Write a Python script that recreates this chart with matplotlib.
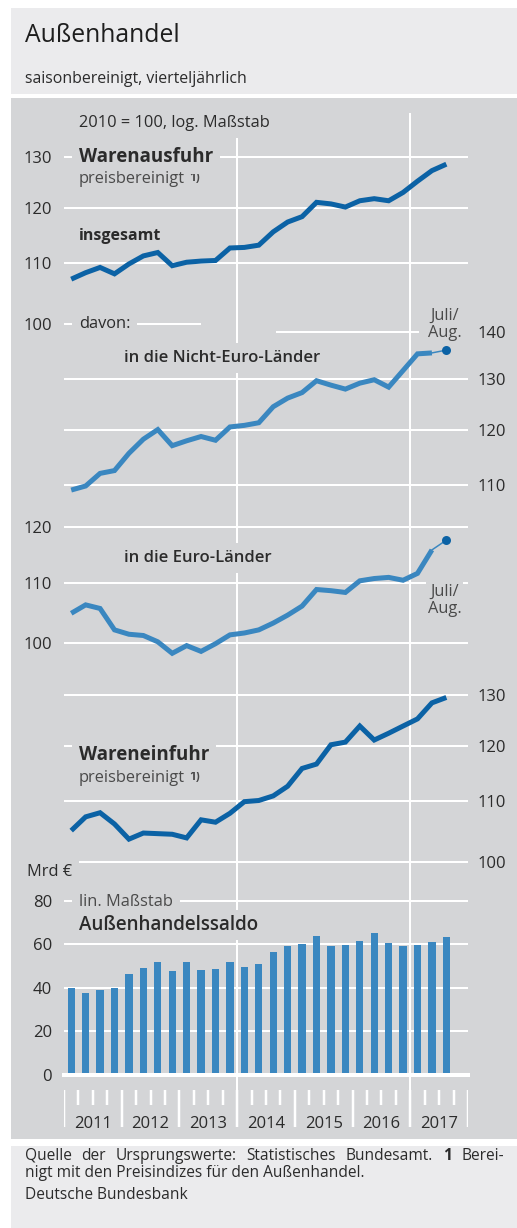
import numpy as np
import matplotlib.pyplot as plt
from matplotlib.patches import Rectangle
from matplotlib.ticker import NullLocator

plt.rcParams['font.family'] = ['Open Sans', 'DejaVu Sans']

# quarterly values 2011 Q1 .. 2017 Q3
quarters = np.arange(27)
years = ['2011', '2012', '2013', '2014', '2015', '2016', '2017']

exports_total = [107.3, 108.4, 109.3, 108.2, 109.9, 111.3, 111.9, 109.6, 110.2, 110.4,
                 110.5, 112.7, 112.8, 113.2, 115.6, 117.4, 118.4, 121.1, 120.8, 120.2,
                 121.4, 121.8, 121.4, 123.0, 125.2, 127.3, 128.6]
exports_non_euro = [109.1, 109.8, 112.0, 112.5, 115.6, 118.2, 120.0, 117.0, 117.9, 118.7,
                    118.0, 120.5, 120.8, 121.3, 124.4, 126.1, 127.2, 129.6, 128.7, 127.9,
                    129.1, 129.8, 128.3, 131.7, 135.2, 135.4, 136.0]
exports_euro = [104.8, 106.2, 105.6, 102.1, 101.4, 101.2, 100.2, 98.4, 99.6, 98.7,
                99.9, 101.3, 101.6, 102.1, 103.2, 104.5, 106.0, 108.8, 108.6, 108.3,
                110.3, 110.7, 110.9, 110.4, 111.6, 115.8, 117.6]
imports_total = [105.0, 107.3, 108.0, 106.1, 103.6, 104.6, 104.5, 104.4, 103.8, 106.8,
                 106.4, 107.9, 109.9, 110.1, 110.9, 112.6, 115.8, 116.6, 120.2, 120.7,
                 123.8, 121.1, 122.4, 123.8, 125.2, 128.4, 129.5]
trade_balance = [39.8, 37.5, 39.2, 39.8, 46.4, 49.1, 51.9, 47.7, 51.7, 48.0,
                 48.8, 52.0, 49.4, 50.9, 56.3, 59.3, 60.0, 63.7, 59.3, 59.8,
                 61.3, 65.2, 60.4, 59.3, 59.5, 60.9, 63.3]

W, H = 517, 1228
HEAD = '#ebebed'
PANEL = '#d4d5d7'
DARK = '#0b62a5'
LIGHT = '#3a87c0'
TXT = '#2b2b2b'
GREY_TXT = '#4a4a4a'
PX = 72 / 100  # points per pixel
K = 635.0      # pixels per log unit on the index panels
FS = 11.8      # regular text size

fig = plt.figure(figsize=(W / 100, H / 100), dpi=100)
fig.patch.set_facecolor('white')


def rect(x0, y0, x1, y1):
    return [x0 / W, 1 - y1 / H, (x1 - x0) / W, (y1 - y0) / H]


def panel(x0, y0, x1, y1, color):
    fig.patches.append(Rectangle((x0 / W, 1 - y1 / H), (x1 - x0) / W, (y1 - y0) / H,
                                 transform=fig.transFigure, fc=color, ec='none', zorder=-10))


def ftext(x, y, s, size, box=True, pad_px=7, **kw):
    kw.setdefault('color', TXT)
    kw.setdefault('va', 'baseline')
    if box:
        kw['bbox'] = dict(boxstyle='square,pad=%.3f' % (pad_px / (size / PX)), fc=PANEL, ec='none')
    return fig.text(x / W, 1 - y / H, s, fontsize=size, **kw)


panel(11, 8, W, 94, HEAD)
panel(11, 98, W, 1139, PANEL)
panel(11, 1146, W, H, HEAD)

X0, X1 = 64, 468

# background axes: vertical grid lines, quarter ticks, year labels
axbg = fig.add_axes(rect(X0, 98, X1, 1140))
axbg.set_axis_off()
axbg.set_xlim(-0.5, 27.5)
axbg.set_ylim(1140, 98)
axbg.vlines([11.5, 23.5], 113, 1127, color='white', lw=2 * PX)
bounds = np.arange(29) - 0.5
for i, b in enumerate(bounds):
    axbg.vlines(b, 1090, 1127 if i % 4 == 0 else 1105, color='white', lw=2.5 * PX)
for k, yr in enumerate(years):
    axbg.text(4 * k + 1.5, 1128, yr, ha='center', va='baseline', fontsize=12, color=TXT)


def make_ax(top, bottom, side, ticks, vref, yref, log=True):
    ax = fig.add_axes(rect(X0, top, X1, bottom))
    ax.patch.set_visible(False)
    for s in ax.spines.values():
        s.set_visible(False)
    ax.set_xlim(-0.5, 27.5)
    ax.set_xticks([])
    if log:
        ax.set_yscale('log')
        ax.set_ylim(vref * np.exp((yref - bottom) / K), vref * np.exp((yref - top) / K))
    else:
        ax.set_ylim(0, vref * (bottom - top) / (bottom - yref))
    ax.set_yticks(ticks)
    ax.set_yticklabels([str(t) for t in ticks])
    ax.yaxis.set_minor_locator(NullLocator())
    if side == 'right':
        ax.yaxis.tick_right()
        ax.tick_params(axis='y', length=0, pad=10 * PX, labelsize=12, labelcolor=TXT)
    else:
        ax.tick_params(axis='y', length=0, pad=12 * PX, labelsize=12, labelcolor=TXT)
    return ax


GLW = 2 * PX
LLW = 5 * PX

# Warenausfuhr insgesamt
ax1 = make_ax(140, 330, 'left', [100, 110, 120, 130], 130, 157.3)
for t in [110, 120, 130]:
    ax1.axhline(t, color='white', lw=GLW, zorder=1)
ax1.axhline(100, xmin=0, xmax=(200 - X0) / (X1 - X0), color='white', lw=GLW, zorder=1)
ax1.plot(quarters, exports_total, color=DARK, lw=LLW, solid_joinstyle='miter',
         solid_capstyle='butt', clip_on=False, zorder=3)

# in die Nicht-Euro-Laender
ax2 = make_ax(320, 495, 'right', [110, 120, 130, 140], 140, 331.7)
for t in [110, 120, 130]:
    ax2.axhline(t, color='white', lw=GLW, zorder=1)
ax2.axhline(140, xmin=(277 - X0) / (X1 - X0), xmax=(418 - X0) / (X1 - X0), color='white', lw=GLW, zorder=1)
ax2.plot(quarters[:-1], exports_non_euro[:-1], color=LIGHT, lw=LLW, solid_joinstyle='miter',
         solid_capstyle='butt', clip_on=False, zorder=3)
ax2.plot(quarters[-2:], exports_non_euro[-2:], color=LIGHT, lw=1.5 * PX, clip_on=False, zorder=3)
ax2.plot(quarters[-1:], exports_non_euro[-1:], 'o', color=DARK, ms=9 * PX, mew=0, clip_on=False, zorder=4)

# in die Euro-Laender
ax3 = make_ax(515, 655, 'left', [100, 110, 120], 120, 527.3)
for t in [100, 110, 120]:
    ax3.axhline(t, color='white', lw=GLW, zorder=1)
ax3.plot(quarters[:-1], exports_euro[:-1], color=LIGHT, lw=LLW, solid_joinstyle='miter',
         solid_capstyle='butt', clip_on=False, zorder=3)
ax3.plot(quarters[-2:], exports_euro[-2:], color=LIGHT, lw=1.5 * PX, clip_on=False, zorder=3)
ax3.plot(quarters[-1:], exports_euro[-1:], 'o', color=DARK, ms=9 * PX, mew=0, clip_on=False, zorder=4)

# Wareneinfuhr
ax4 = make_ax(685, 870, 'right', [100, 110, 120, 130], 130, 695)
for t in [110, 120, 130]:
    ax4.axhline(t, color='white', lw=GLW, zorder=1)
ax4.axhline(100, xmin=(80 - X0) / (X1 - X0), xmax=1, color='white', lw=GLW, zorder=1)
ax4.plot(quarters, imports_total, color=DARK, lw=LLW, solid_joinstyle='miter',
         solid_capstyle='butt', clip_on=False, zorder=3)

# Aussenhandelssaldo
ax5 = make_ax(890, 1075, 'left', [0, 20, 40, 60, 80], 80, 900.7, log=False)
for t in [20, 40, 60, 80]:
    ax5.axhline(t, color='white', lw=GLW, zorder=1)
ax5.bar(quarters, trade_balance, width=0.5, color=LIGHT, zorder=2)
ax5.axhline(0, color='white', lw=4 * PX, zorder=3, clip_on=False)

# header
ftext(25, 41.7, 'Außenhandel', 17.8, box=False, color='#1e1e1e')
ftext(25, 83, 'saisonbereinigt, vierteljährlich', 11.4, box=False, color=TXT)

# annotations inside the chart panel
ftext(79, 127.3, '2010 = 100, log. Maßstab', FS)
ftext(79, 161.7, 'Warenausfuhr', 13.5, fontweight='bold')
p1 = ftext(79, 183, 'preisbereinigt', FS, box=False, color=GREY_TXT)
ftext(79, 240, 'insgesamt', 11.5, box=False, fontweight='bold')
ftext(79, 328.3, 'davon:', FS)
ftext(124, 362.3, 'in die Nicht-Euro-Länder', 12, fontweight='semibold')
ftext(444.5, 337.3, 'Juli/\nAug.', FS, pad_px=2, ha='center', multialignment='center',
      color=GREY_TXT, linespacing=1.15)
ftext(124, 561.7, 'in die Euro-Länder', 12, fontweight='semibold')
ftext(444.5, 613.3, 'Juli/\nAug.', FS, pad_px=2, ha='center', multialignment='center',
      color=GREY_TXT, linespacing=1.15)
ftext(79, 760, 'Wareneinfuhr', 13.5, fontweight='bold')
p2 = ftext(79, 781.7, 'preisbereinigt', FS, box=False, color=GREY_TXT)
ftext(27, 876, 'Mrd €', FS, pad_px=3)
ftext(79, 906, 'lin. Maßstab', FS, color=GREY_TXT)
ftext(79, 930, 'Außenhandelssaldo', 13.5, pad_px=5, fontweight='semibold')

for p in (p1, p2):
    fig.add_artist(plt.Annotation('1)', xy=(1, 1), xycoords=p, xytext=(3, 0),
                                  textcoords='offset points', fontsize=8.5,
                                  fontweight='bold', va='top', color=GREY_TXT))

# footer, first line justified word by word
FOOT = 11.2
words = [('Quelle', 'normal'), ('der', 'normal'), ('Ursprungswerte:', 'normal'),
         ('Statistisches', 'normal'), ('Bundesamt.', 'normal'), ('1', 'bold'), ('Berei-', 'normal')]
arts = [ftext(25, 1160, w, FOOT, box=False, fontweight=wt) for w, wt in words]
renderer = fig.canvas.get_renderer()
widths = [a.get_window_extent(renderer).width for a in arts]
gap = (504 - 25 - sum(widths)) / (len(words) - 1)
x = 25
for a, wd in zip(arts, widths):
    a.set_x(x / W)
    x += wd + gap
ftext(25, 1176.7, 'nigt mit den Preisindizes für den Außenhandel.', FOOT, box=False)
ftext(25, 1199.3, 'Deutsche Bundesbank', FOOT, box=False)

fig.savefig('out.png', dpi=100, facecolor='white')
